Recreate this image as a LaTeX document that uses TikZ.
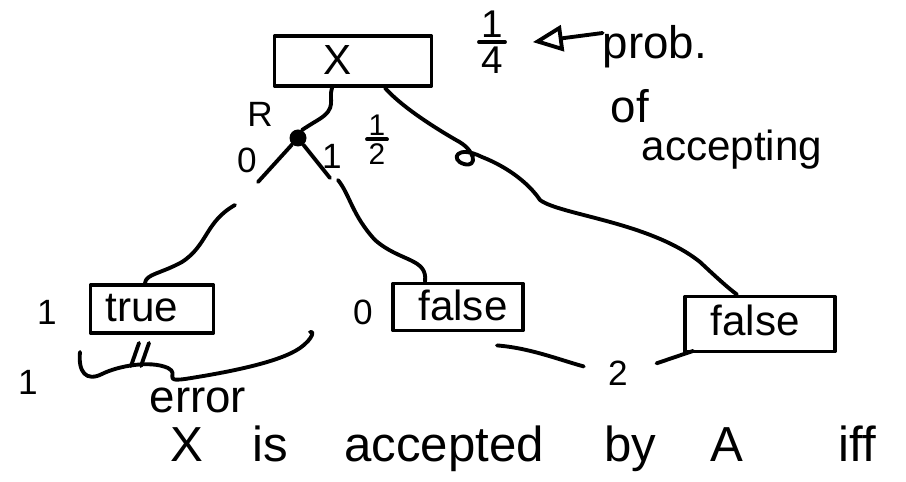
\documentclass[tikz,border=0pt]{standalone}
\usepackage{fontspec}
\setmainfont{Liberation Sans}
\usetikzlibrary{arrows.meta,calc}
\begin{document}
\begin{tikzpicture}[x=0.02cm,y=-0.02cm,
  ink/.style={line width=2.2pt,line cap=round,line join=round},
  box/.style={draw,ink,rectangle,inner sep=0pt},
  hand/.style={font=\fontsize{24}{26}\selectfont,inner sep=0pt},
  big/.style={font=\fontsize{28}{30}\selectfont,inner sep=0pt,anchor=base},
  small/.style={font=\fontsize{20}{22}\selectfont,inner sep=0pt},
  prob/.style={font=\fontsize{26}{28}\selectfont,inner sep=0pt},
  fracbig/.style={font=\fontsize{22}{24}\selectfont,inner sep=0pt},
  fracsmall/.style={font=\fontsize{17}{19}\selectfont,inner sep=0pt}]
\useasboundingbox (0,0) rectangle (906,482);

% boxes of the tree
\node[box,minimum width=3.14cm,minimum height=1.0cm] (xbox) at (353,61) {};
\node[hand] (xlab) at (338,60) {X};
\node[box,minimum width=2.46cm,minimum height=0.96cm] (tbox) at (152,309) {};
\node[hand] (tlab) at (142,308) {true};
\node[box,minimum width=2.6cm,minimum height=0.94cm] (fbox) at (458,307) {};
\node[hand] (flab) at (463,305) {false};
\node[box,minimum width=3.0cm,minimum height=1.1cm] (rbox) at (760,324) {};
\node[hand] (rlab) at (755,320) {false};

% random bit
\node[circle,fill,inner sep=0pt,minimum size=0.34cm] (dot) at (298,138) {};
\node[small] (rlabel) at (260,114) {R};
\node[small] (zero) at (247,160) {0};
\node[small] (one) at (332,156) {1};
\node[fracsmall] (h1) at (377,125) {1};
\node[fracsmall] (h2) at (377,154) {2};
\path (h1.south) -- (h2.north) coordinate[pos=0.5] (hbar);
\draw[ink] ([xshift=-0.2cm]hbar) -- ([xshift=0.2cm]hbar);

\coordinate (b0) at (258,182);
\coordinate (b1) at (330,178);
\coordinate (c0) at (235,205);
\coordinate (c1) at (338,180);

\draw[ink] ([xshift=-0.42cm]xbox.south) .. controls (328,100) and (338,108) .. (318,120)
  .. controls (308,126) and (302,130) .. (dot);
\draw[ink] (dot) -- (b0);
\draw[ink] (dot) -- (b1);
\draw[ink] (c0) .. controls (205,222) and (208,245) .. (182,262)
  .. controls (160,274) and (146,274) .. ([xshift=-0.14cm]tbox.north);
\draw[ink] (c1) .. controls (350,195) and (352,215) .. (375,240)
  .. controls (400,262) and (428,258) .. ([xshift=-0.66cm]fbox.north);

% long branch to the right
\draw[ink] ([xshift=0.64cm]xbox.south) .. controls (400,105) and (430,125) .. (456,140)
  .. controls (476,150) and (478,168) .. (464,164)
  .. controls (450,160) and (456,144) .. (482,157)
  .. controls (510,168) and (530,185) .. (540,200)
  .. controls (560,215) and (650,222) .. (700,262)
  .. controls (715,276) and (728,288) .. ([xshift=-0.46cm]rbox.north);

% probability note
\node[fracbig] (q1) at (492,24) {1};
\node[fracbig] (q4) at (492,60) {4};
\path (q1.south) -- (q4.north) coordinate[pos=0.5] (qbar);
\draw[ink] ([xshift=-0.26cm]qbar) -- ([xshift=0.26cm]qbar);
\node[prob] (probw) at (655,47) {prob.};
\node[prob] (of) at (630,106) {of};
\node[font=\fontsize{24}{26}\selectfont,inner sep=0pt] (acc) at (732,150) {accepting};
\draw[ink,-{Triangle[open,length=0.6cm,width=0.52cm]},shorten >=0.6cm]
  ([yshift=0.28cm]probw.west) -- ([yshift=0.28cm]q4.east -| q1.east);

% outcomes
\node[small] (vt) at (47,312) {1};
\node[small] (vf) at (363,312) {0};
\node[small] (ve) at (28,382) {1};
\node[prob] (err) at (198,400) {error};
\draw[ink] (80,352) .. controls (78,372) and (86,382) .. (102,374)
  .. controls (118,366) and (150,360) .. (168,368)
  .. controls (180,374) and (162,382) .. (185,379)
  .. controls (230,372) and (280,362) .. (300,348)
  .. controls (314,338) and (314,330) .. (310,332);
\draw[ink] (139,343) -- (131,366);
\draw[ink] (149,343) -- (141,366);

\node[small] (two) at (618,373) {2};
\draw[ink,shorten >=0.5cm] ([xshift=0.78cm,yshift=-0.26cm]fbox.south)
  .. controls (530,348) and (560,360) .. (two.west);
\draw[ink,shorten <=0.6cm] (two.east) -- ([xshift=0.2cm,yshift=0.05cm]rbox.south west);

% statement
\node[big] (w1) at (187,462) {X};
\node[big] (w2) at (270,462) {is};
\node[big] (w3) at (444,462) {accepted};
\node[big] (w4) at (630,462) {by};
\node[big] (w5) at (727,462) {A};
\node[big] (w6) at (857,462) {iff};
\end{tikzpicture}
\end{document}
